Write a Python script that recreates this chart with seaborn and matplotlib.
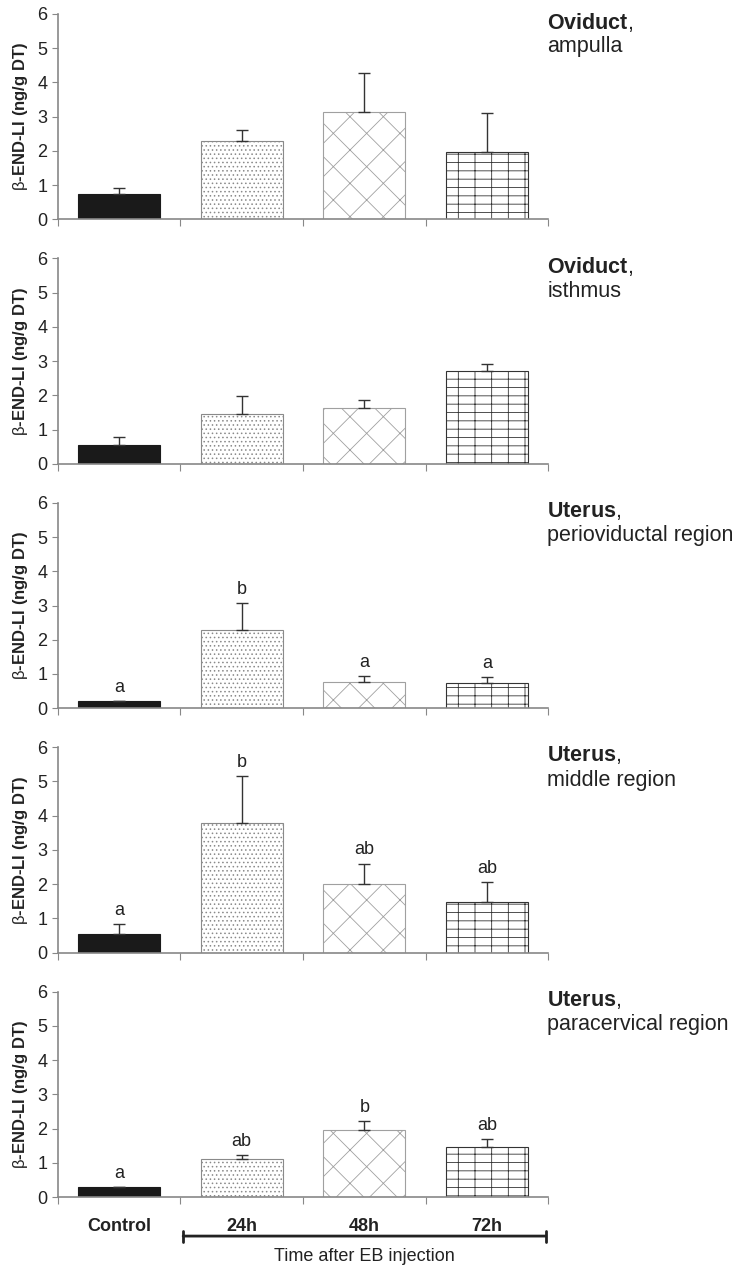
import matplotlib
matplotlib.use("Agg")
import matplotlib.pyplot as plt
import seaborn as sns
import pandas as pd
import numpy as np

groups = ["Control", "24h", "48h", "72h"]

region_bold = ["Oviduct", "Oviduct", "Uterus", "Uterus", "Uterus"]
region_sub = ["ampulla", "isthmus", "perioviductal region", "middle region", "paracervical region"]

means = [
    [0.75, 2.28, 3.13, 1.98],
    [0.55, 1.45, 1.62, 2.70],
    [0.22, 2.28, 0.76, 0.75],
    [0.55, 3.80, 2.00, 1.48],
    [0.28, 1.12, 1.97, 1.45],
]
sems = [
    [0.17, 0.32, 1.15, 1.14],
    [0.23, 0.52, 0.23, 0.22],
    [0.00, 0.80, 0.17, 0.17],
    [0.28, 1.35, 0.60, 0.59],
    [0.00, 0.10, 0.25, 0.25],
]
letters = [
    None,
    None,
    ["a", "b", "a", "a"],
    ["a", "b", "ab", "ab"],
    ["a", "ab", "b", "ab"],
]

sns.set_style("ticks")
plt.rcParams["font.family"] = ["Liberation Sans", "DejaVu Sans"]
plt.rcParams["mathtext.fontset"] = "custom"
plt.rcParams["mathtext.rm"] = "Liberation Sans"
plt.rcParams["mathtext.it"] = "Liberation Sans"
plt.rcParams["mathtext.bf"] = "Liberation Sans:bold"
plt.rcParams["hatch.linewidth"] = 0.6

fills = ["#1a1a1a", "white", "white", "white"]
edges = ["#1a1a1a", "#8a8a8a", "#a0a0a0", "#333333"]
hatches = [None, "....", "x", "+-"]

fig, axes = plt.subplots(5, 1, figsize=(7.4, 12.69), dpi=100)
fig.subplots_adjust(left=0.078, right=0.741, top=0.989, bottom=0.0567, hspace=0.19)

for i, ax in enumerate(axes):
    df = pd.DataFrame({"group": groups, "value": means[i]})
    sns.barplot(data=df, x="group", y="value", hue="group", palette=fills,
                legend=False, width=0.67, ax=ax, errorbar=None)
    for j, bar in enumerate(ax.patches):
        bar.set_edgecolor(edges[j])
        bar.set_linewidth(0.8)
        if hatches[j]:
            bar.set_hatch(hatches[j])
    x = np.arange(len(groups))
    err = np.array(sems[i])
    ax.errorbar(x, means[i], yerr=[np.zeros_like(err), err], fmt="none",
                ecolor="#333333", elinewidth=1, capsize=4, capthick=1)
    if letters[i]:
        for j, lab in enumerate(letters[i]):
            ax.text(j, means[i][j] + sems[i][j] + 0.15, lab, ha="center",
                    va="bottom", fontsize=13, color="#222222")
    ax.set_ylim(0, 6)
    ax.set_xlim(-0.5, 3.5)
    ax.set_yticks(range(7))
    ax.tick_params(axis="y", labelsize=13, colors="#222222", length=4, color="#888888")
    ax.set_xticks([-0.5, 0.5, 1.5, 2.5, 3.5])
    ax.set_xticklabels([])
    ax.tick_params(axis="x", length=5, color="#888888")
    ax.set_xlabel("")
    ax.set_ylabel(r"$\mathrm{\beta}$-END-LI (ng/g DT)", fontsize=12, fontweight="bold",
                  color="#222222", labelpad=5)
    sns.despine(ax=ax)
    for s in ["left", "bottom"]:
        ax.spines[s].set_color("#888888")
        ax.spines[s].set_linewidth(1.2)
    ax.text(0.998, 0.96, r"$\mathbf{" + region_bold[i] + "}$,", transform=ax.transAxes,
            fontsize=15.5, ha="left", va="center", color="#222222")
    ax.text(0.998, 0.84, region_sub[i], transform=ax.transAxes, fontsize=15.5,
            ha="left", va="center", color="#222222")

bottom = axes[-1]
for j, g in enumerate(groups):
    bottom.text(j, -0.1, g, transform=bottom.get_xaxis_transform(), ha="center",
                va="top", fontsize=13, fontweight="bold", color="#222222")
bottom.annotate("", xy=(0.25, -0.19), xytext=(1.0, -0.19), xycoords="axes fraction",
                arrowprops=dict(arrowstyle="|-|", lw=2, color="#222222",
                                mutation_scale=4))
bottom.text(0.625, -0.25, "Time after EB injection", transform=bottom.transAxes,
            ha="center", va="top", fontsize=13, color="#222222")

fig.savefig("out.png", dpi=100)
